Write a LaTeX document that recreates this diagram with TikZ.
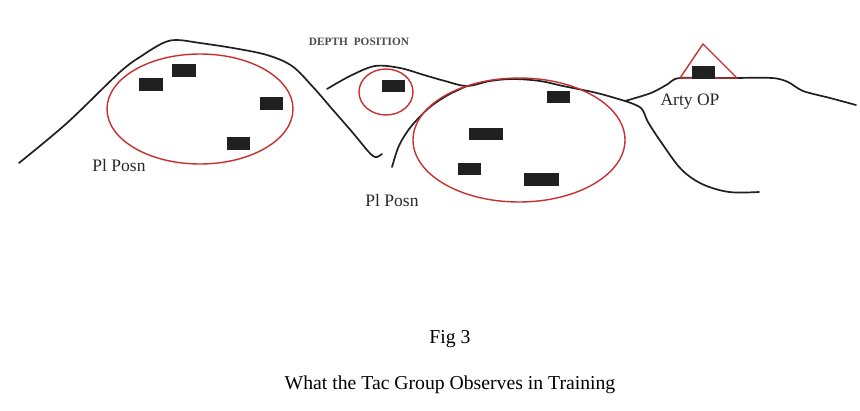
\documentclass[tikz,border=0pt]{standalone}
\usepackage{fontspec}
\setmainfont{Liberation Serif}
\definecolor{ired}{RGB}{200,48,48}
\definecolor{iblack}{RGB}{32,32,32}
\definecolor{itext}{RGB}{40,40,40}
\definecolor{igray}{RGB}{75,75,75}
\begin{document}
\begin{tikzpicture}[x=1pt,y=-1pt,
  ground/.style={draw=iblack,line width=1.7pt,line cap=round,line join=round},
  zone/.style={draw=ired,line width=1.4pt},
  tank/.style={fill=iblack,draw=none},
  lbl/.style={text=itext,font=\fontsize{17.5}{20}\selectfont,inner sep=0pt},
  captext/.style={text=black,font=\fontsize{19.7}{22}\selectfont,inner sep=0pt}]
\useasboundingbox (0,0) rectangle (860,410);
\fill[white] (0,0) rectangle (860,410);
% left hill
\draw[ground] plot[smooth,tension=0.55] coordinates {(19,163) (67,123) (120,72) (143,55) (163,43) (177,40) (200,43) (233,48) (267,55) (292,66) (313,87) (333,110) (353,133) (367,150) (373,156) (377,157) (382,154)};
% depth ridge and top of main hill
\draw[ground] plot[smooth,tension=0.55] coordinates {(327,89) (350,76) (375,66) (400,68) (424,75) (445,81) (467,86) (490,81) (513,79) (540,81) (563,86) (597,93) (625,101)};
% main hill left slope
\draw[ground] plot[smooth,tension=0.55] coordinates {(392,167) (398,148) (405,135) (414,123) (430,107) (448,95) (467,86)};
% Arty OP ridge
\draw[ground] plot[smooth,tension=0.5] coordinates {(625,101) (651,93) (668,84) (680,78) (730,78) (772,78) (788,82) (803,91) (830,98) (856,105)};
% main hill descent
\draw[ground] plot[smooth,tension=0.55] coordinates {(625,101) (641,108) (648,122) (661,142) (681,169) (702,184) (729,192) (759,192)};
% zones
\draw[zone] (200,109) ellipse [x radius=93,y radius=55];
\draw[zone] (386,92) ellipse [x radius=27,y radius=23];
\draw[zone] (519,140) ellipse [x radius=106,y radius=62];
\draw[zone,line join=miter] (680,78) -- (703,44) -- (737,78) -- cycle;
% positions
\fill[tank] (139,78) rectangle (163,91);
\fill[tank] (172,64) rectangle (196,77);
\fill[tank] (260,97) rectangle (283,110);
\fill[tank] (227,137) rectangle (250,150);
\fill[tank] (382,80) rectangle (405,92);
\fill[tank] (547,91) rectangle (570,103);
\fill[tank] (469,128) rectangle (503,140);
\fill[tank] (458,163) rectangle (481,175);
\fill[tank] (524,173) rectangle (559,186);
\fill[tank] (692,66) rectangle (715,79);
% labels
\node[lbl] (pl1) at (119,166) {Pl Posn};
\node[lbl] (pl2) at (392,201) {Pl Posn};
\node[lbl] (arty) at (690,102) {Arty OP};
\node[text=igray,font=\bfseries\fontsize{11.3}{13}\selectfont,inner sep=0pt] (depth) at (359,42) {DEPTH\; POSITION};
\node[captext] (fig) at (450,339) {Fig 3};
\node[captext] (title) at (450,385) {What the Tac Group Observes in Training};
\end{tikzpicture}
\end{document}
